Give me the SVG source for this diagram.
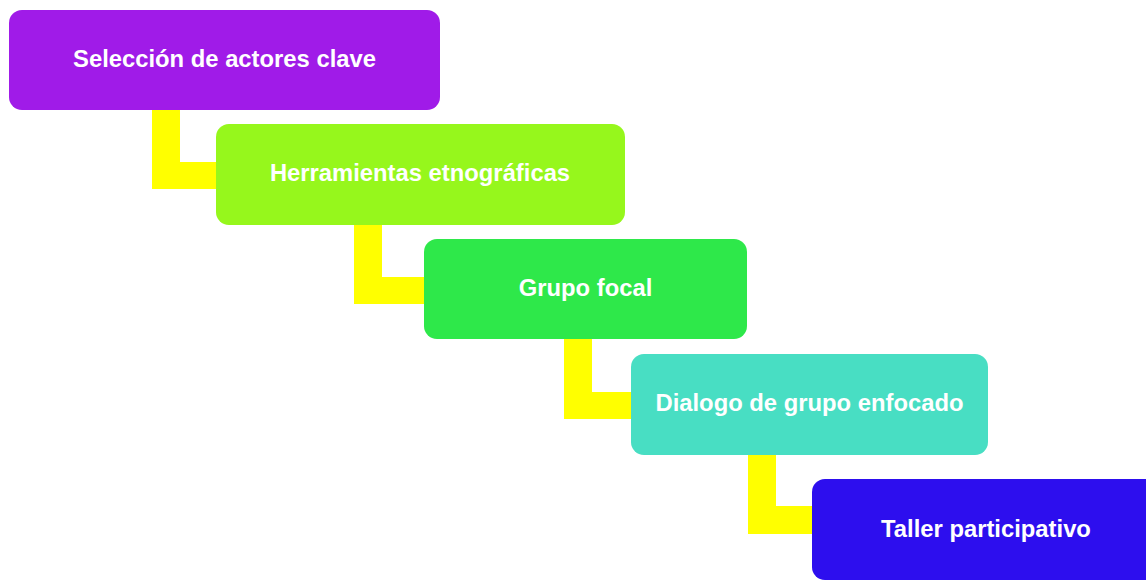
<svg xmlns="http://www.w3.org/2000/svg" width="1146" height="580" viewBox="0 0 1146 580">
<style>
.box{stroke:none}
.lbl{font-family:"Liberation Sans",Arial,sans-serif;font-weight:bold;font-size:23.8px;fill:#ffffff;text-anchor:middle}
.con{fill:#FFFF00;stroke:none}
</style>
<rect width="1146" height="580" fill="#ffffff"/>
<g id="connectors">
<path class="con" d="M152,110 H180 V162 H217 V189 H152 Z"/>
<path class="con" d="M354,225 H382 V277 H425 V304 H354 Z"/>
<path class="con" d="M564,339 H592 V392 H632 V419 H564 Z"/>
<path class="con" d="M748,455 H776 V506 H813 V534 H748 Z"/>
</g>
<g id="node1">
<rect class="box" x="9" y="10" width="431" height="100" rx="13" fill="#A01BE8"/>
<text class="lbl" x="224.5" y="67">Selección de actores clave</text>
</g>
<g id="node2">
<rect class="box" x="216" y="124" width="409" height="101" rx="13" fill="#96F71C"/>
<text class="lbl" x="420" y="181">Herramientas etnográficas</text>
</g>
<g id="node3">
<rect class="box" x="424" y="239" width="323" height="100" rx="13" fill="#2EE84A"/>
<text class="lbl" x="585.5" y="296">Grupo focal</text>
</g>
<g id="node4">
<rect class="box" x="631" y="354" width="357" height="101" rx="13" fill="#48DEC3"/>
<text class="lbl" x="809.5" y="411">Dialogo de grupo enfocado</text>
</g>
<g id="node5">
<rect class="box" x="812" y="479" width="348" height="101" rx="13" fill="#2D0EEE"/>
<text class="lbl" x="986" y="537">Taller participativo</text>
</g>
</svg>
